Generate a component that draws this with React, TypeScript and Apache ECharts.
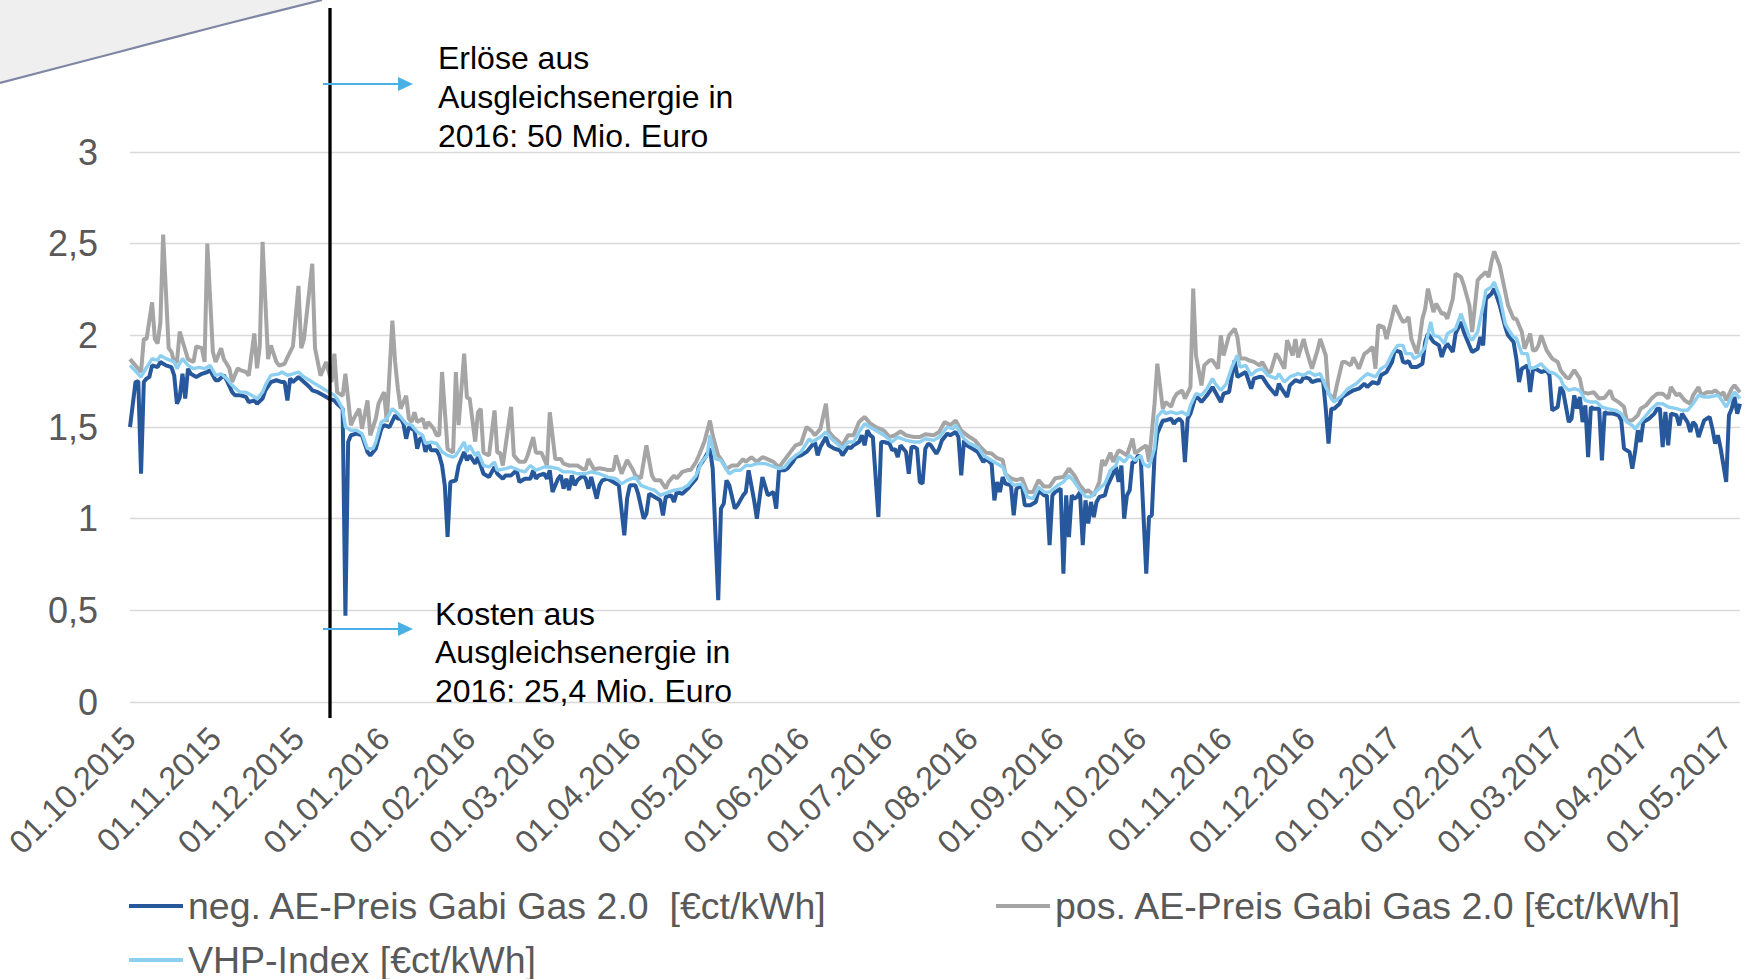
import React, { useEffect, useRef } from 'react';
import * as echarts from 'echarts';

const FONT = '"Liberation Sans", Arial, sans-serif';

// Daily category axis: 01.10.2015 .. 06.05.2017
const START_UTC = Date.UTC(2015, 9, 1);
const DAY_COUNT = 584;

const SERIES_NAMES = [
  'neg. AE-Preis Gabi Gas 2.0  [€ct/kWh]',
  'pos. AE-Preis Gabi Gas 2.0 [€ct/kWh]',
  'VHP-Index [€ct/kWh]',
];

const ANNOTATION_TOP = 'Erlöse aus\nAusgleichsenergie in\n2016: 50 Mio. Euro';
const ANNOTATION_BOTTOM = 'Kosten aus\nAusgleichsenergie in\n2016: 25,4 Mio. Euro';

// [day offset from 01.10.2015, value €ct/kWh]
const NEG: [number, number][] = [
  [0,1.50],[2,1.745],[3,1.75],[4,1.245],[5,1.745],[6,1.764],[7,1.773],[8,1.836],[10,1.827],[11,1.855],[13,1.836],[15,1.827],[16,1.782],[17,1.627],[18,1.66],[19,1.79],[20,1.655],[21,1.818],[22,1.79],[24,1.773],[26,1.79],[28,1.80],[29,1.81],[31,1.755],[32,1.755],[34,1.782],[35,1.755],[37,1.69],[38,1.673],[40,1.673],[42,1.664],[43,1.636],[45,1.645],[46,1.627],[48,1.655],[49,1.70],[51,1.745],[53,1.755],[55,1.745],[56,1.745],[57,1.645],[58,1.764],[59,1.745],[61,1.773],[63,1.745],[65,1.718],[66,1.70],[68,1.69],[70,1.673],[72,1.655],[74,1.645],[75,1.627],[77,1.60],[78,0.47],[79,1.418],[80,1.455],[82,1.464],[84,1.455],[86,1.364],[87,1.345],[89,1.382],[91,1.49],[92,1.51],[94,1.50],[96,1.564],[97,1.545],[98,1.55],[99,1.518],[100,1.436],[101,1.50],[103,1.482],[104,1.382],[105,1.436],[106,1.44],[107,1.364],[108,1.418],[109,1.373],[111,1.373],[112,1.345],[113,1.29],[114,1.18],[115,0.90],[116,1.20],[118,1.209],[119,1.29],[121,1.364],[122,1.318],[123,1.345],[125,1.30],[126,1.336],[128,1.245],[130,1.227],[132,1.282],[133,1.245],[135,1.218],[136,1.236],[138,1.236],[140,1.264],[141,1.20],[143,1.218],[145,1.218],[146,1.264],[147,1.218],[148,1.236],[150,1.245],[151,1.218],[152,1.264],[153,1.145],[155,1.218],[156,1.236],[157,1.164],[158,1.218],[159,1.155],[160,1.236],[161,1.182],[162,1.209],[164,1.236],[165,1.218],[166,1.164],[167,1.227],[169,1.109],[170,1.182],[171,1.209],[173,1.218],[175,1.20],[177,1.182],[179,0.909],[180,1.109],[181,1.182],[183,1.182],[184,1.136],[186,1.0],[187,1.027],[188,1.136],[190,1.118],[192,1.10],[193,1.018],[194,1.118],[196,1.127],[197,1.091],[198,1.145],[200,1.136],[202,1.164],[203,1.182],[205,1.218],[206,1.282],[208,1.327],[210,1.382],[211,1.273],[213,0.555],[214,1.055],[215,1.082],[216,1.209],[217,1.182],[219,1.055],[220,1.073],[222,1.127],[223,1.145],[224,1.264],[226,1.10],[227,1.0],[229,1.227],[231,1.127],[233,1.145],[234,1.055],[235,1.264],[237,1.264],[238,1.273],[240,1.309],[241,1.336],[243,1.345],[245,1.364],[247,1.40],[248,1.418],[249,1.345],[250,1.391],[252,1.445],[253,1.40],[255,1.382],[257,1.373],[258,1.345],[260,1.391],[261,1.385],[262,1.40],[264,1.418],[265,1.455],[266,1.40],[267,1.482],[268,1.455],[269,1.445],[271,1.009],[272,1.418],[273,1.418],[275,1.41],[276,1.373],[277,1.38],[278,1.336],[279,1.40],[281,1.364],[282,1.245],[283,1.391],[284,1.391],[285,1.382],[286,1.20],[287,1.191],[288,1.382],[289,1.409],[290,1.40],[292,1.354],[293,1.382],[294,1.427],[296,1.464],[297,1.455],[299,1.473],[300,1.445],[301,1.236],[302,1.427],[303,1.40],[305,1.382],[307,1.364],[309,1.309],[310,1.327],[312,1.30],[313,1.10],[314,1.20],[315,1.145],[316,1.227],[317,1.191],[319,1.182],[320,1.018],[321,1.164],[323,1.182],[324,1.073],[326,1.073],[328,1.091],[329,1.155],[331,1.127],[332,1.127],[333,0.855],[334,1.127],[335,1.145],[337,1.164],[338,0.70],[339,1.127],[340,0.90],[341,1.127],[342,1.109],[343,1.12],[344,1.145],[345,0.855],[346,1.10],[347,0.973],[348,1.091],[349,1.009],[350,1.091],[351,1.118],[353,1.127],[354,1.182],[356,1.245],[357,1.282],[358,1.20],[359,1.29],[360,1.0],[361,1.127],[362,1.155],[363,1.309],[364,1.309],[365,1.345],[366,1.336],[367,1.018],[368,0.70],[369,1.009],[370,1.018],[371,1.345],[372,1.464],[374,1.536],[375,1.536],[377,1.545],[378,1.518],[379,1.536],[380,1.545],[381,1.527],[382,1.309],[383,1.545],[384,1.573],[386,1.673],[388,1.636],[390,1.673],[392,1.718],[393,1.691],[395,1.636],[396,1.682],[398,1.691],[399,1.782],[400,1.864],[401,1.773],[402,1.782],[404,1.80],[406,1.709],[407,1.764],[409,1.773],[410,1.773],[412,1.727],[413,1.709],[415,1.673],[416,1.736],[417,1.709],[419,1.664],[420,1.727],[422,1.755],[424,1.745],[425,1.773],[427,1.764],[428,1.745],[430,1.755],[432,1.755],[433,1.60],[434,1.409],[435,1.60],[436,1.60],[438,1.627],[439,1.664],[441,1.682],[443,1.70],[445,1.709],[447,1.736],[448,1.718],[450,1.745],[452,1.736],[453,1.782],[455,1.80],[457,1.855],[458,1.918],[460,1.909],[461,1.855],[462,1.85],[463,1.86],[464,1.827],[466,1.827],[468,1.845],[469,1.964],[470,2.009],[472,1.964],[474,1.945],[475,1.882],[476,1.927],[477,1.955],[479,1.909],[480,2.009],[482,2.073],[483,2.018],[485,1.945],[486,1.909],[488,1.927],[489,1.991],[490,1.945],[491,2.20],[493,2.227],[494,2.255],[496,2.164],[498,2.045],[499,2.0],[501,1.964],[502,1.873],[503,1.745],[504,1.818],[506,1.836],[507,1.691],[508,1.809],[509,1.818],[511,1.80],[513,1.809],[514,1.782],[515,1.591],[517,1.609],[518,1.718],[519,1.691],[521,1.527],[522,1.545],[523,1.673],[524,1.60],[525,1.664],[526,1.527],[527,1.618],[528,1.336],[529,1.609],[530,1.60],[532,1.60],[533,1.318],[534,1.582],[535,1.573],[537,1.573],[539,1.564],[540,1.536],[541,1.382],[543,1.364],[544,1.273],[545,1.364],[546,1.482],[547,1.418],[548,1.527],[550,1.545],[552,1.573],[553,1.60],[554,1.60],[555,1.391],[556,1.582],[557,1.40],[558,1.573],[560,1.564],[561,1.509],[562,1.573],[564,1.527],[565,1.473],[566,1.527],[567,1.509],[568,1.445],[570,1.536],[572,1.555],[573,1.491],[574,1.409],[575,1.455],[576,1.382],[578,1.20],[579,1.564],[580,1.60],[581,1.664],[582,1.573],[583,1.627],
];

const POS: [number, number][] = [
  [0,1.87],[4,1.80],[5,1.98],[6,1.98],[8,2.18],[9,1.98],[10,1.955],[11,2.07],[12,2.55],[14,1.93],[15,1.91],[16,1.855],[17,1.855],[18,2.02],[20,1.92],[21,1.87],[23,1.855],[24,1.94],[26,1.93],[27,1.855],[28,2.5],[30,1.91],[31,1.855],[33,1.93],[34,1.87],[36,1.82],[37,1.745],[39,1.82],[40,1.81],[42,1.80],[43,1.78],[45,2.01],[46,1.82],[47,1.94],[48,2.51],[50,1.87],[51,1.945],[53,1.855],[54,1.835],[56,1.845],[57,1.88],[59,1.94],[61,2.27],[62,1.93],[63,1.98],[66,2.39],[67,1.93],[68,1.855],[69,1.78],[71,1.855],[72,1.80],[73,1.745],[74,1.90],[75,1.69],[77,1.67],[78,1.79],[80,1.51],[81,1.545],[83,1.60],[84,1.49],[86,1.645],[87,1.455],[89,1.545],[90,1.627],[92,1.69],[93,1.527],[95,2.08],[96,1.855],[97,1.71],[98,1.60],[100,1.67],[101,1.545],[102,1.527],[103,1.58],[104,1.527],[106,1.545],[107,1.49],[108,1.527],[110,1.49],[111,1.455],[112,1.455],[113,1.80],[115,1.38],[117,1.36],[118,1.80],[119,1.51],[121,1.90],[122,1.66],[123,1.655],[125,1.42],[126,1.58],[127,1.60],[128,1.36],[130,1.345],[132,1.59],[133,1.36],[134,1.36],[135,1.29],[138,1.61],[139,1.345],[141,1.31],[143,1.31],[144,1.345],[146,1.445],[147,1.36],[149,1.36],[151,1.29],[152,1.58],[154,1.325],[156,1.325],[157,1.30],[159,1.29],[162,1.29],[164,1.27],[165,1.27],[166,1.325],[168,1.27],[170,1.275],[172,1.27],[173,1.265],[175,1.265],[176,1.345],[178,1.245],[180,1.32],[182,1.27],[183,1.235],[185,1.22],[187,1.40],[189,1.235],[190,1.21],[192,1.21],[194,1.165],[195,1.20],[197,1.235],[198,1.22],[200,1.255],[202,1.265],[203,1.265],[205,1.31],[206,1.345],[208,1.42],[210,1.535],[211,1.455],[213,1.345],[214,1.325],[216,1.27],[218,1.29],[220,1.29],[222,1.325],[223,1.31],[225,1.335],[227,1.31],[229,1.335],[230,1.33],[233,1.31],[235,1.28],[237,1.32],[239,1.36],[241,1.40],[243,1.41],[245,1.50],[247,1.475],[248,1.455],[250,1.49],[252,1.627],[253,1.475],[255,1.44],[256,1.43],[258,1.40],[260,1.455],[262,1.455],[264,1.527],[266,1.555],[268,1.52],[270,1.50],[273,1.48],[275,1.445],[277,1.455],[279,1.476],[281,1.455],[284,1.445],[286,1.445],[288,1.46],[291,1.455],[293,1.473],[295,1.527],[297,1.51],[299,1.536],[301,1.48],[304,1.445],[306,1.427],[308,1.39],[310,1.36],[312,1.355],[314,1.33],[316,1.32],[317,1.245],[319,1.22],[321,1.21],[323,1.22],[325,1.145],[327,1.145],[329,1.21],[331,1.175],[333,1.175],[335,1.22],[338,1.227],[340,1.273],[342,1.235],[344,1.18],[346,1.145],[347,1.155],[349,1.127],[351,1.20],[352,1.32],[353,1.29],[355,1.36],[356,1.31],[358,1.373],[359,1.365],[361,1.345],[363,1.436],[364,1.355],[366,1.38],[368,1.40],[369,1.31],[371,1.627],[372,1.845],[374,1.60],[375,1.636],[377,1.61],[378,1.655],[379,1.68],[381,1.70],[382,1.655],[384,1.718],[385,2.255],[386,1.89],[388,1.727],[389,1.836],[391,1.864],[392,1.864],[394,1.818],[395,2.0],[396,1.89],[398,2.0],[400,2.036],[401,1.99],[402,1.873],[404,1.873],[405,1.864],[407,1.855],[409,1.836],[410,1.855],[412,1.80],[413,1.80],[415,1.90],[416,1.88],[418,1.818],[419,1.973],[421,1.89],[422,1.98],[423,1.88],[425,1.98],[426,1.918],[428,1.818],[430,1.918],[431,1.98],[433,1.89],[434,1.682],[436,1.655],[437,1.727],[439,1.855],[440,1.855],[442,1.836],[443,1.88],[445,1.818],[447,1.90],[448,1.909],[450,1.936],[451,1.818],[452,2.055],[454,2.045],[455,1.98],[457,2.1],[458,2.164],[460,2.1],[461,2.073],[462,2.08],[463,2.1],[464,1.98],[466,1.90],[467,1.98],[468,2.09],[469,2.145],[470,2.255],[472,2.127],[473,2.173],[475,2.118],[476,2.12],[477,2.09],[479,2.2],[480,2.336],[482,2.318],[483,2.273],[485,2.164],[486,2.018],[488,2.3],[489,2.318],[491,2.345],[492,2.318],[493,2.4],[494,2.458],[496,2.38],[498,2.236],[499,2.164],[501,2.09],[502,2.09],[504,2.018],[505,1.927],[507,2.009],[508,1.918],[509,1.918],[510,1.945],[511,2.0],[513,1.918],[515,1.873],[517,1.855],[518,1.81],[520,1.773],[521,1.764],[523,1.81],[525,1.764],[526,1.69],[528,1.682],[530,1.69],[532,1.655],[534,1.66],[536,1.70],[537,1.655],[539,1.636],[541,1.61],[542,1.536],[544,1.536],[546,1.564],[547,1.60],[549,1.618],[551,1.655],[553,1.682],[555,1.682],[557,1.655],[558,1.718],[560,1.673],[561,1.682],[563,1.645],[565,1.627],[566,1.673],[568,1.718],[569,1.673],[571,1.69],[573,1.69],[574,1.70],[576,1.673],[577,1.69],[578,1.645],[580,1.71],[581,1.727],[583,1.69],
];

const VHP: [number, number][] = [
  [0,1.836],[4,1.773],[5,1.80],[8,1.873],[10,1.864],[11,1.89],[13,1.873],[16,1.855],[17,1.818],[19,1.873],[21,1.836],[23,1.818],[25,1.825],[27,1.818],[29,1.836],[31,1.782],[33,1.79],[35,1.764],[37,1.727],[39,1.70],[40,1.69],[42,1.69],[44,1.673],[46,1.655],[48,1.69],[49,1.727],[51,1.782],[54,1.79],[55,1.80],[57,1.782],[59,1.79],[61,1.80],[63,1.773],[65,1.755],[67,1.736],[69,1.718],[72,1.69],[74,1.673],[75,1.655],[77,1.60],[78,1.50],[80,1.482],[82,1.482],[84,1.464],[86,1.382],[88,1.382],[89,1.418],[91,1.527],[93,1.545],[95,1.60],[97,1.573],[98,1.555],[100,1.518],[102,1.51],[104,1.473],[106,1.455],[107,1.41],[109,1.418],[111,1.41],[113,1.364],[115,1.345],[117,1.336],[118,1.345],[121,1.418],[122,1.364],[123,1.40],[125,1.345],[126,1.364],[128,1.29],[130,1.282],[132,1.309],[133,1.264],[136,1.273],[138,1.282],[141,1.264],[143,1.255],[145,1.29],[147,1.264],[150,1.282],[152,1.282],[155,1.273],[157,1.255],[160,1.255],[162,1.245],[165,1.245],[167,1.255],[170,1.245],[173,1.227],[176,1.218],[178,1.19],[180,1.209],[183,1.227],[185,1.182],[188,1.164],[190,1.155],[192,1.127],[195,1.145],[197,1.155],[200,1.164],[202,1.182],[205,1.236],[207,1.309],[209,1.345],[210,1.455],[211,1.382],[212,1.327],[214,1.318],[217,1.245],[219,1.264],[221,1.264],[223,1.29],[225,1.29],[227,1.30],[230,1.30],[232,1.29],[235,1.273],[237,1.28],[239,1.318],[241,1.345],[243,1.364],[246,1.436],[247,1.418],[250,1.445],[252,1.473],[254,1.436],[256,1.41],[258,1.382],[260,1.418],[262,1.418],[264,1.473],[266,1.518],[269,1.49],[271,1.473],[273,1.455],[276,1.418],[278,1.445],[281,1.427],[284,1.418],[286,1.418],[288,1.436],[291,1.427],[293,1.445],[296,1.50],[298,1.49],[299,1.51],[302,1.436],[304,1.41],[307,1.39],[309,1.345],[311,1.327],[314,1.30],[316,1.282],[318,1.218],[320,1.182],[323,1.19],[325,1.118],[327,1.109],[329,1.173],[331,1.145],[333,1.145],[336,1.182],[338,1.20],[340,1.236],[342,1.20],[344,1.155],[346,1.12],[348,1.118],[349,1.136],[351,1.164],[353,1.191],[355,1.264],[357,1.29],[358,1.336],[360,1.309],[362,1.345],[364,1.318],[366,1.345],[367,1.30],[369,1.282],[371,1.382],[372,1.555],[374,1.591],[375,1.573],[377,1.582],[379,1.573],[381,1.582],[383,1.564],[384,1.618],[386,1.682],[388,1.673],[390,1.709],[392,1.764],[393,1.736],[395,1.70],[397,1.736],[399,1.827],[401,1.891],[402,1.827],[404,1.836],[406,1.782],[408,1.809],[410,1.818],[412,1.782],[415,1.764],[416,1.791],[418,1.745],[420,1.773],[423,1.791],[425,1.782],[427,1.80],[429,1.782],[431,1.791],[433,1.718],[435,1.655],[436,1.636],[439,1.673],[441,1.709],[444,1.736],[446,1.764],[448,1.791],[451,1.773],[453,1.818],[455,1.836],[457,1.90],[459,1.945],[461,1.945],[462,1.90],[464,1.90],[465,1.873],[467,1.891],[469,1.936],[471,2.073],[472,2.0],[474,1.991],[476,1.955],[477,2.009],[480,2.036],[482,2.118],[483,2.073],[485,1.991],[486,1.973],[488,2.018],[490,2.164],[491,2.245],[493,2.264],[494,2.291],[496,2.209],[498,2.064],[499,2.036],[501,1.991],[502,1.985],[504,1.90],[506,1.90],[507,1.818],[509,1.827],[511,1.845],[512,1.827],[514,1.80],[516,1.791],[518,1.764],[519,1.727],[521,1.70],[523,1.709],[525,1.70],[527,1.645],[529,1.636],[531,1.636],[533,1.609],[535,1.60],[538,1.591],[540,1.573],[542,1.527],[544,1.509],[545,1.49],[547,1.527],[549,1.564],[551,1.60],[553,1.627],[555,1.627],[557,1.609],[560,1.60],[562,1.591],[564,1.591],[566,1.627],[568,1.673],[570,1.664],[572,1.664],[575,1.673],[576,1.655],[578,1.609],[580,1.664],[581,1.69],[583,1.655],
];

const pad2 = (n: number) => (n < 10 ? '0' + n : String(n));

const CATEGORIES: string[] = [];
for (let i = 0; i < DAY_COUNT; i++) {
  const d = new Date(START_UTC + i * 86400000);
  CATEGORIES.push(`${pad2(d.getUTCDate())}.${pad2(d.getUTCMonth() + 1)}.${d.getUTCFullYear()}`);
}

const COLORS = ['#27589c', '#a5a5a5', '#8ccff0'];

export default function App() {
  const ref = useRef<HTMLDivElement>(null);

  useEffect(() => {
    if (!ref.current) return;
    const chart = echarts.init(ref.current, undefined, { renderer: 'svg' });

    const legendCommon = {
      icon: 'rect',
      itemWidth: 54,
      itemHeight: 4,
      padding: 0,
      itemGap: 0,
      textStyle: { color: '#595959', fontSize: 37.5, fontFamily: FONT, lineHeight: 42 },
    };

    const option: any = {
      animation: false,
      backgroundColor: '#ffffff',
      grid: { left: 130, right: 4, top: 152, bottom: 277, containLabel: false, outerBoundsMode: 'none' },
      xAxis: {
        type: 'category',
        data: CATEGORIES,
        boundaryGap: false,
        axisLine: { show: false },
        axisTick: { show: false },
        splitLine: { show: false },
        axisLabel: {
          interval: (_i: number, v: string) => v.startsWith('01.'),
          rotate: 45,
          margin: 31,
          color: '#595959',
          fontSize: 32.5,
          fontFamily: FONT,
        },
      },
      yAxis: {
        type: 'value',
        min: 0,
        max: 3,
        interval: 0.5,
        axisLine: { show: false },
        axisTick: { show: false },
        splitLine: { lineStyle: { color: '#d9d9d9', width: 1.3 } },
        axisLabel: {
          formatter: (v: number) => String(v).replace('.', ','),
          color: '#595959',
          fontSize: 36,
          fontFamily: FONT,
          margin: 32,
        },
      },
      legend: [
        { ...legendCommon, data: [SERIES_NAMES[0]], left: 129, top: 885 },
        { ...legendCommon, data: [SERIES_NAMES[1]], left: 996, top: 885 },
        { ...legendCommon, data: [SERIES_NAMES[2]], left: 129, top: 939 },
      ],
      series: [
        {
          name: SERIES_NAMES[0], type: 'line', data: NEG, symbol: 'none',
          lineStyle: { color: COLORS[0], width: 4 }, itemStyle: { color: COLORS[0] },
        },
        {
          name: SERIES_NAMES[1], type: 'line', data: POS, symbol: 'none',
          lineStyle: { color: COLORS[1], width: 4 }, itemStyle: { color: COLORS[1] },
        },
        {
          name: SERIES_NAMES[2], type: 'line', data: VHP, symbol: 'none',
          lineStyle: { color: COLORS[2], width: 3.4 }, itemStyle: { color: COLORS[2] },
        },
      ],
      graphic: [
        {
          type: 'polygon', z: 50,
          shape: { points: [[0, 0], [322, 0], [222, 25], [111, 54], [0, 83]] },
          style: { fill: '#efefef' },
        },
        {
          type: 'polyline', z: 51,
          shape: { points: [[0, 83], [111, 54], [222, 25], [322, 0]], smooth: 0.3 },
          style: { stroke: '#7e86a4', lineWidth: 2.2, fill: 'none' },
        },
        {
          type: 'line', z: 60,
          shape: { x1: 330, y1: 8, x2: 330, y2: 718 },
          style: { stroke: '#000000', lineWidth: 3.3 },
        },
        {
          type: 'line', z: 60,
          shape: { x1: 323, y1: 84, x2: 400, y2: 84 },
          style: { stroke: '#4aafe5', lineWidth: 1.8 },
        },
        {
          type: 'polygon', z: 60,
          shape: { points: [[398, 77], [413, 84], [398, 91]] },
          style: { fill: '#4aafe5' },
        },
        {
          type: 'line', z: 60,
          shape: { x1: 323, y1: 629, x2: 400, y2: 629 },
          style: { stroke: '#4aafe5', lineWidth: 1.8 },
        },
        {
          type: 'polygon', z: 60,
          shape: { points: [[398, 622], [413, 629], [398, 636]] },
          style: { fill: '#4aafe5' },
        },
        {
          type: 'text', z: 60, x: 438, y: 38,
          style: {
            text: ANNOTATION_TOP, fill: '#000000', fontSize: 32, fontFamily: FONT,
            lineHeight: 39, align: 'left', verticalAlign: 'top',
          },
        },
        {
          type: 'text', z: 60, x: 435, y: 595,
          style: {
            text: ANNOTATION_BOTTOM, fill: '#000000', fontSize: 32, fontFamily: FONT,
            lineHeight: 38.3, align: 'left', verticalAlign: 'top',
          },
        },
      ],
    };

    chart.setOption(option);
    return () => chart.dispose();
  }, []);

  return (
    <div
      ref={ref}
      style={{ position: 'absolute', left: 0, top: 0, width: 1744, height: 979 }}
    />
  );
}
